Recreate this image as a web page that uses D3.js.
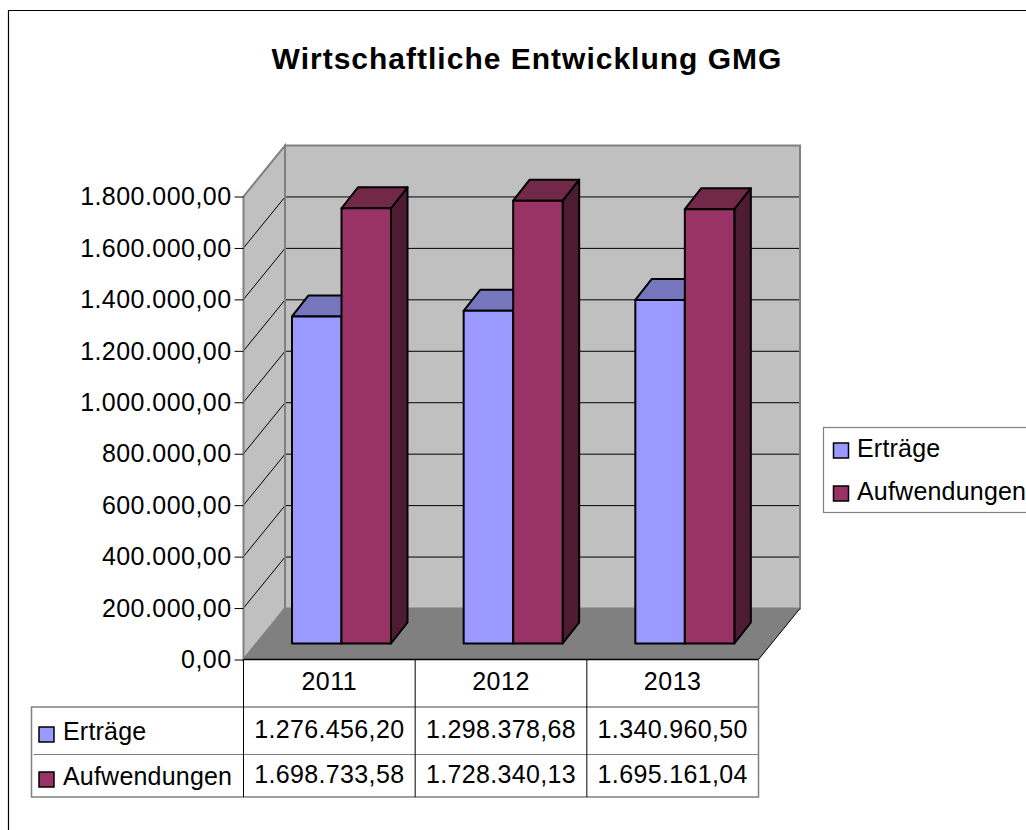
<!DOCTYPE html>
<html>
<head>
<meta charset="utf-8">
<script src="https://cdn.jsdelivr.net/npm/d3@7"></script>
<style>
  html, body { margin: 0; padding: 0; background: #fff; overflow: hidden; }
  svg { display: block; }
  text { font-family: "Liberation Sans", Arial, sans-serif; fill: #000; }
</style>
</head>
<body>
<svg id="chart" width="1026" height="830"></svg>
<script>
const title = 'Wirtschaftliche Entwicklung GMG'
const years = ['2011', '2012', '2013']
const seriesNames = ['Erträge', 'Aufwendungen']
const ertraege = [1276456.20, 1298378.68, 1340960.50]
const aufwendungen = [1698733.58, 1728340.13, 1695161.04]
const yTicks = [0, 200000, 400000, 600000, 800000, 1000000, 1200000, 1400000, 1600000, 1800000]

const seriesValues = [ertraege, aufwendungen]
const fronts = ['#9999ff', '#993366']
const tops = ['#7676bf', '#722849']
const sides = ['#4c4c7f', '#4d1c33']

const fmt = d3.formatLocale({ decimal: ',', thousands: '.', grouping: [3], currency: ['', ''] }).format(',.2f')

const svg = d3.select('#chart')

// front plane of the axis box, the walls sit behind it by depth
const left = 243.5, right = 758.5, y0 = 659.5, yTop = 196.5
const depthX = 41.5, depthY = -51

const y = d3.scaleLinear([0, 1800000], [y0, yTop])
// the bars stand a little inside the box, so they get their own scale
const barY = d3.scaleLinear([0, 1800000], [643.5, 182.3])
const x = d3.scaleBand(years, [left, right])
const xSeries = d3.scaleBand(seriesNames, [48.5, 147.5])
const barDX = 16.5, barDY = -21

// chart frame, only top and left are visible
svg.append('path')
  .attr('d', 'M1026,10.5H8.5V830')
  .attr('fill', 'none').attr('stroke', '#000').attr('stroke-width', 1.2)

svg.append('text')
  .attr('x', 527).attr('y', 69)
  .attr('text-anchor', 'middle')
  .attr('font-size', 30).attr('font-weight', 'bold').attr('letter-spacing', 1)
  .text(title)

// walls
const wallBack = [[left + depthX, y0 + depthY], [right + depthX, y0 + depthY], [right + depthX, yTop + depthY], [left + depthX, yTop + depthY]]
const wallLeft = [[left, y0], [left + depthX, y0 + depthY], [left + depthX, yTop + depthY], [left, yTop]]
const floor = [[left, y0], [right, y0], [right + depthX, y0 + depthY], [left + depthX, y0 + depthY]]

svg.append('polygon').attr('points', wallBack.join(' ')).attr('fill', '#c0c0c0')
svg.append('polygon').attr('points', wallLeft.join(' ')).attr('fill', '#c0c0c0')

// gridlines across left wall and back wall, the top one is the gray edge
svg.append('g').selectAll('path')
  .data(yTicks.slice(1, -1))
  .join('path')
  .attr('d', d => `M${left},${y(d)}L${left + depthX},${y(d) + depthY}H${right + depthX - 1}`)
  .attr('fill', 'none').attr('stroke', '#000').attr('stroke-width', 1)

svg.append('polygon').attr('points', wallBack.join(' ')).attr('fill', 'none').attr('stroke', '#808080').attr('stroke-width', 2)
svg.append('polygon').attr('points', wallLeft.join(' ')).attr('fill', 'none').attr('stroke', '#808080').attr('stroke-width', 2)
svg.append('polygon').attr('points', floor.join(' ')).attr('fill', '#808080')

// floor edge on the right
svg.append('path')
  .attr('d', `M${right},${y0}L${right + depthX},${y0 + depthY}`)
  .attr('stroke', '#000').attr('stroke-width', 1)

// bars
const bars = []
years.forEach((yr, i) => {
  seriesNames.forEach((s, j) => bars.push({ yr, s, j, v: seriesValues[j][i] }))
})

const barG = svg.append('g').selectAll('g')
  .data(bars)
  .join('g')
  .attr('stroke', '#000').attr('stroke-width', 2).attr('stroke-linejoin', 'round')

function bx(d) { return x(d.yr) + xSeries(d.s) }
const bw = xSeries.bandwidth()

barG.append('polygon')
  .attr('fill', d => sides[d.j])
  .attr('points', d => [[bx(d) + bw, barY(d.v)], [bx(d) + bw + barDX, barY(d.v) + barDY], [bx(d) + bw + barDX, barY(0) + barDY], [bx(d) + bw, barY(0)]].join(' '))
barG.append('polygon')
  .attr('fill', d => tops[d.j])
  .attr('points', d => [[bx(d), barY(d.v)], [bx(d) + barDX, barY(d.v) + barDY], [bx(d) + bw + barDX, barY(d.v) + barDY], [bx(d) + bw, barY(d.v)]].join(' '))
barG.append('rect')
  .attr('fill', d => fronts[d.j])
  .attr('x', d => bx(d)).attr('y', d => barY(d.v))
  .attr('width', bw).attr('height', d => barY(0) - barY(d.v))

// y axis
const yAxis = svg.append('g')
  .attr('transform', `translate(${left},0)`)
  .call(d3.axisLeft(y).tickValues(yTicks).tickFormat(fmt).tickSize(9).tickSizeOuter(0).tickPadding(3))
yAxis.select('.domain').remove()
yAxis.selectAll('.tick line').attr('stroke', '#000').attr('stroke-width', 1)
yAxis.selectAll('.tick text')
  .attr('font-size', 25).attr('font-family', '"Liberation Sans", Arial, sans-serif')
  .attr('fill', '#000').attr('dy', '0.33em').attr('letter-spacing', 0.45)

// data table below the axis
const tableLeft = 31.5
const rowY = [659.5, 707, 754.5, 797]
const colX = years.map(yr => x(yr)).concat(right)

const table = svg.append('g')
table.append('path')
  .attr('d', `M${left},${rowY[1]}H${tableLeft}V${rowY[3]}H${right}V${rowY[0]}`)
  .attr('fill', 'none').attr('stroke', '#808080').attr('stroke-width', 1.5)
table.append('path')
  .attr('d', `M${left},${rowY[1]}H${right}`)
  .attr('stroke', '#808080').attr('stroke-width', 1.5)
table.append('path')
  .attr('d', `M${tableLeft + 2},${rowY[2]}H${right}`)
  .attr('stroke', '#808080').attr('stroke-width', 1)
table.append('path')
  .attr('d', `M${left},${y0}H${right}`)
  .attr('stroke', '#000').attr('stroke-width', 1.5)
table.selectAll('line.col')
  .data(colX.slice(0, 3))
  .join('line')
  .attr('class', 'col')
  .attr('x1', d => d).attr('x2', d => d)
  .attr('y1', rowY[0]).attr('y2', rowY[3])
  .attr('stroke', '#000').attr('stroke-width', 1)

table.selectAll('text.year')
  .data(years)
  .join('text')
  .attr('class', 'year')
  .attr('x', d => x(d) + x.bandwidth() / 2).attr('y', 690)
  .attr('text-anchor', 'middle').attr('font-size', 25).attr('letter-spacing', 0.5)
  .text(d => d)

seriesNames.forEach((s, j) => {
  const baseY = [740, 785][j]
  const swatchY = [734.5, 779.5][j]
  table.append('rect')
    .attr('x', 39).attr('y', swatchY - 7.5)
    .attr('width', 15).attr('height', 15)
    .attr('fill', fronts[j]).attr('stroke', '#000').attr('stroke-width', 1.5)
  table.append('text')
    .attr('x', 63).attr('y', baseY).attr('font-size', 25).attr('letter-spacing', 0.2)
    .text(s)
  table.selectAll(null)
    .data(seriesValues[j])
    .join('text')
    .attr('x', (d, i) => x(years[i]) + x.bandwidth() / 2).attr('y', baseY - 2)
    .attr('text-anchor', 'middle').attr('font-size', 25).attr('letter-spacing', 0.35)
    .text(d => fmt(d))
})

// legend, runs off the right edge like the original
const legend = svg.append('g')
legend.append('rect')
  .attr('x', 823.5).attr('y', 427.5).attr('width', 215).attr('height', 85)
  .attr('fill', '#fff').attr('stroke', '#808080').attr('stroke-width', 1.2)
seriesNames.forEach((s, j) => {
  const cy = 450.5 + j * 43
  legend.append('rect')
    .attr('x', 833.5).attr('y', cy - 7.5)
    .attr('width', 15).attr('height', 15)
    .attr('fill', fronts[j]).attr('stroke', '#000').attr('stroke-width', 1.5)
  legend.append('text')
    .attr('x', 857).attr('y', cy + 6.5).attr('font-size', 25).attr('letter-spacing', 0.2)
    .text(s)
})
</script>
</body>
</html>
